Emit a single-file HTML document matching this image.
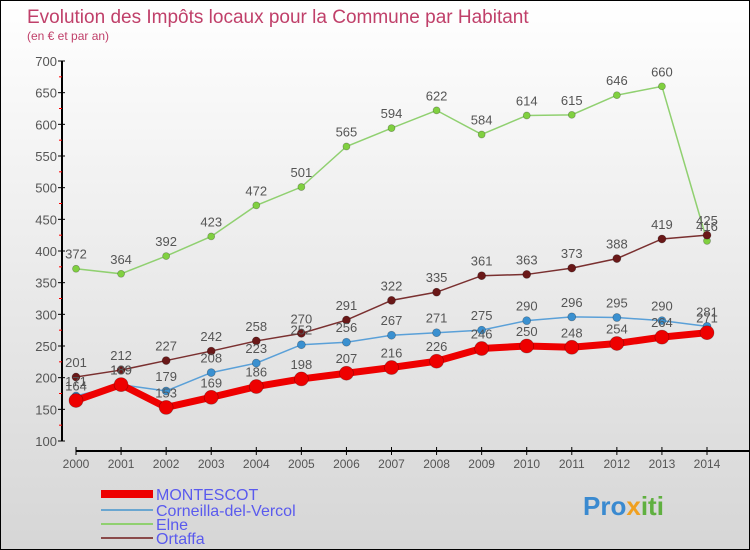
<!DOCTYPE html>
<html><head><meta charset="utf-8"><style>
body{margin:0}
#c{width:748px;height:548px;border:1px solid #000;background:linear-gradient(#fff,#d6d6d6);position:relative;font-family:"Liberation Sans",sans-serif;overflow:hidden}
</style></head><body>
<div id="c">
<svg id="s" width="748" height="548" xmlns="http://www.w3.org/2000/svg">
<text x="26" y="22" font-size="19" fill="#c0406a">Evolution des Impôts locaux pour la Commune par Habitant</text>
<text x="26" y="39" font-size="12" fill="#c0406a">(en € et par an)</text>
<g id="axes"></g><g id="series"></g>
<g>
<line x1="100" y1="493" x2="152" y2="493" stroke="#e00" stroke-width="8"/>
<text x="155" y="499" font-size="16" fill="#5a5aee">MONTESCOT</text>
<line x1="100" y1="509" x2="152" y2="509" stroke="#6aa6d0" stroke-width="2"/>
<text x="155" y="515" font-size="16" fill="#5a5aee">Corneilla-del-Vercol</text>
<line x1="100" y1="523" x2="152" y2="523" stroke="#90d070" stroke-width="2"/>
<text x="155" y="529" font-size="16" fill="#5a5aee">Elne</text>
<line x1="100" y1="537" x2="152" y2="537" stroke="#8a4a4a" stroke-width="2"/>
<text x="155" y="543" font-size="16" fill="#5a5aee">Ortaffa</text>
</g>
<text x="582" y="514" font-size="26" font-weight="bold" fill="#3a8ad0">Pro<tspan fill="#f0a020">x</tspan><tspan fill="#60b040">iti</tspan></text>
</svg></div>
<script>
const years=[2000,2001,2002,2003,2004,2005,2006,2007,2008,2009,2010,2011,2012,2013,2014];
const yTicks=[100,150,200,250,300,350,400,450,500,550,600,650,700];
const montescot=[164,189,153,169,186,198,207,216,226,246,250,248,254,264,271];
const corneilla=[171,189,179,208,223,252,256,267,271,275,290,296,295,290,281];
const elne=[372,364,392,423,472,501,565,594,622,584,614,615,646,660,416];
const ortaffa=[201,212,227,242,258,270,291,322,335,361,363,373,388,419,425];
const NS="http://www.w3.org/2000/svg";
const X=i=>75+i*(706-75)/14, Y=v=>440-(v-100)*380/600;
function mk(t,a,p){const e=document.createElementNS(NS,t);for(const k in a)e.setAttribute(k,a[k]);p.appendChild(e);return e;}
const ax=document.getElementById('axes');
let yl=mk('line',{x1:61,y1:60,x2:61,y2:440,stroke:'#000','stroke-width':2},ax);

let xl=mk('line',{x1:75,y1:450,x2:748,y2:450,stroke:'#000','stroke-width':2},ax);

yTicks.forEach((v,i)=>{mk('line',{x1:57,y1:Y(v),x2:64,y2:Y(v),stroke:'#000'},ax);
 if(i<yTicks.length-1)mk('line',{x1:58,y1:Y(v+25),x2:61,y2:Y(v+25),stroke:'#f00'},ax);
 const t=mk('text',{x:56,y:Y(v)+5,'font-size':13,fill:'#555','text-anchor':'end'},ax);t.textContent=v;
 });
years.forEach((y,i)=>{mk('line',{x1:X(i),y1:446,x2:X(i),y2:454,stroke:'#000'},ax);
 const t=mk('text',{x:X(i),y:467,'font-size':12,fill:'#555','text-anchor':'middle'},ax);t.textContent=y;
 });
const sg=document.getElementById('series');
function series(d,name,col,w,r,pc){const g=mk('g',{},sg);
 
 mk('polyline',{points:d.map((v,i)=>X(i)+','+Y(v)).join(' '),fill:'none',stroke:col,'stroke-width':w},g);
 d.forEach((v,i)=>{const c=mk('circle',{cx:X(i),cy:Y(v),r:r,fill:pc,stroke:'rgba(0,0,0,0.3)','stroke-width':0.7},g);
  
  const t=mk('text',{x:X(i),y:Y(v)-10,'font-size':13,fill:'#555','text-anchor':'middle'},g);t.textContent=v;
  });}
series(elne,'elne-series','#90d070',1.5,3.5,'#80d040');
series(ortaffa,'ortaffa-series','#7a3030',1.5,4,'#6a1818');
series(corneilla,'corneilla-series','#5aa0d8',1.5,4,'#3a90d0');
series(montescot,'montescot-series','#ee0000',7,7,'#ee0000');
</script>
</body></html>
